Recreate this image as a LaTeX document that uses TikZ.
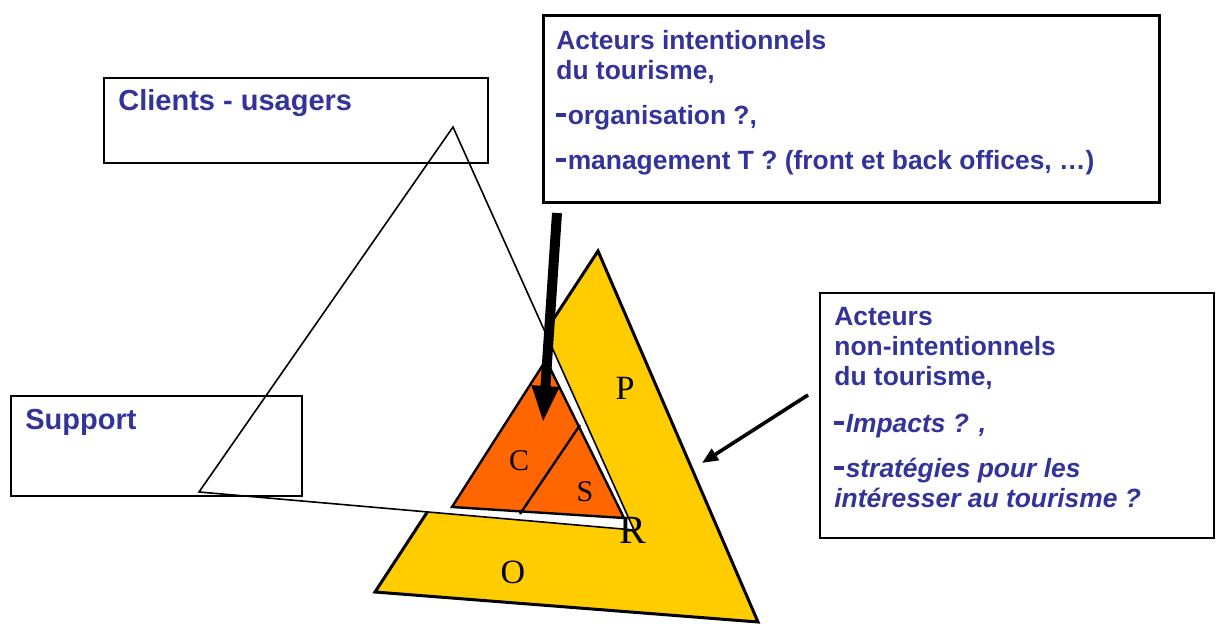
\documentclass[tikz,border=0pt]{standalone}
\usepackage{fontspec}
\setmainfont{Liberation Sans}
\newfontfamily\lettre{Liberation Serif}
\usetikzlibrary{arrows.meta,positioning}
\definecolor{bleutexte}{RGB}{51,51,153}
\definecolor{jaune}{RGB}{255,204,0}
\definecolor{orangecs}{RGB}{255,102,0}
\newcommand{\tiret}{\rule[0.3em]{0.35em}{0.12em}\hspace{0.08em}}
\tikzset{
  cadre/.style={draw, anchor=north west, inner sep=0pt},
  texte/.style={anchor=north west, align=left, inner sep=0pt, text=bleutexte,
    font=\bfseries\fontsize{13.2}{15}\selectfont},
  grandtexte/.style={texte, anchor=base west, font=\bfseries\fontsize{14.5}{16}\selectfont},
  lettrepr/.style={inner sep=0pt, font=\lettre\fontsize{#1}{#1}\selectfont},
  lettrepr/.default=17
}

\begin{document}
\begin{tikzpicture}[x=0.5pt,y=-0.5pt]
\useasboundingbox (0,0) rectangle (1216,624);

\coordinate (jA) at (598,251);
\coordinate (jB) at (375,592);
\coordinate (jC) at (758,622);
\coordinate (bA) at (453,127);
\coordinate (bB) at (199,492);
\coordinate (bC) at (634,530);
\coordinate (oA) at (546,360);
\coordinate (oB) at (452,507);
\coordinate (oC) at (624,518);
\coordinate (sA) at (580,425);
\coordinate (sB) at (520,514);

\filldraw[fill=jaune, line width=1.5pt, line join=miter] (jA) -- (jB) -- (jC) -- cycle;
\filldraw[fill=white, line width=0.8pt] (bA) -- (bB) -- (bC) -- cycle;
\filldraw[fill=orangecs, line width=1.2pt] (oA) -- (oB) -- (oC) -- cycle;
\draw[line width=1.2pt] (sA) -- (sB);

\node[lettrepr] (P) at (625,388) {P};
\node[lettrepr=15] (C) at (519,461) {C};
\node[lettrepr=15] (S) at (585,492) {S};
\node[lettrepr=20] (R) at (633,530) {R};
\node[lettrepr] (O) at (513,572) {O};

\node[cadre, line width=0.8pt, minimum width=192pt, minimum height=42.5pt] (clients) at (103,77) {};
\node[grandtexte] (clientstxt) at ([shift={(15,34)}]clients.north west) {Clients - usagers};

\node[cadre, line width=0.8pt, minimum width=145.5pt, minimum height=50pt] (support) at (10,395) {};
\node[grandtexte] (supporttxt) at ([shift={(15,35)}]support.north west) {Support};

\node[cadre, line width=1.3pt, minimum width=308pt, minimum height=93.5pt] (intent) at (542,14) {};
\node[texte] (intenttxt) at ([shift={(14,16)}]intent.north west)
  {Acteurs intentionnels\\du tourisme,\\[7.5pt]\tiret organisation ?,\\[7.5pt]\tiret management T ? (front et back offices, …)};

\node[cadre, line width=1.1pt, minimum width=197pt, minimum height=122.5pt] (nonintent) at (819,292) {};
\node[texte] (nonintenttxt) at ([shift={(15,15)}]nonintent.north west)
  {Acteurs\\non-intentionnels\\du tourisme,\\[8.5pt]\tiret\textit{Impacts ? ,}\\[7.5pt]\tiret\textit{stratégies pour les}\\\textit{intéresser au tourisme ?}};

\coordinate (fleche1a) at (557,213);
\coordinate (fleche1b) at (543,423);
\coordinate (fleche2a) at (808,395);
\coordinate (fleche2b) at (702,463);
\draw[line width=5pt, -{Triangle[length=18.5pt, width=12.5pt]}] (fleche1a) -- (fleche1b);
\draw[line width=1.8pt, -{Triangle[length=8pt, width=6.5pt]}] (fleche2a) -- (fleche2b);
\end{tikzpicture}
\end{document}
